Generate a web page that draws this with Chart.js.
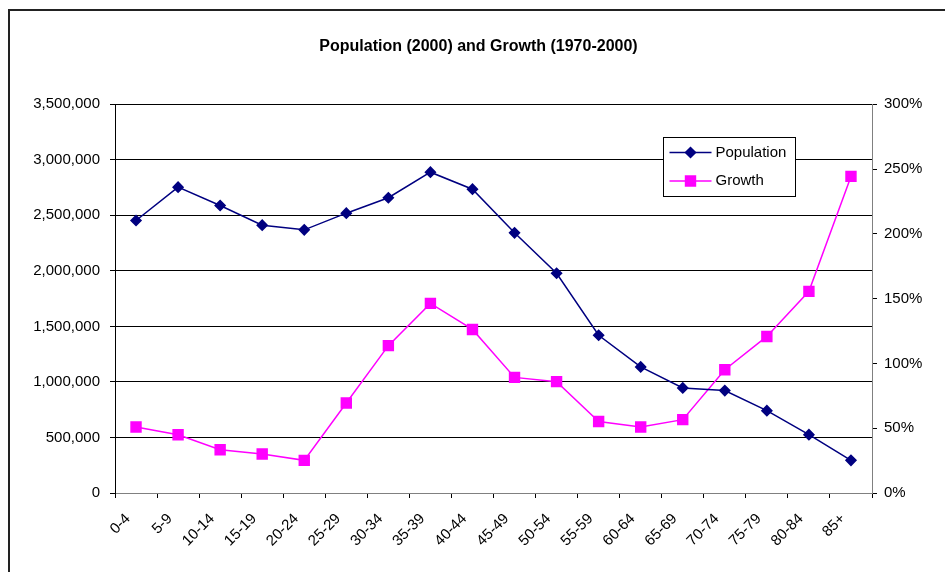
<!DOCTYPE html>
<html>
<head>
<meta charset="utf-8">
<script src="https://cdn.jsdelivr.net/npm/chart.js@4"></script>
<style>
  body { margin: 0; background: #fff; overflow: hidden; }
  #wrap { position: relative; width: 945px; height: 572px; }
  #frame { position: absolute; left: 8px; top: 9px; width: 1000px; height: 1000px; border: 2px solid #222; }
  canvas { position: absolute; left: 0; top: 0; }
</style>
</head>
<body>
<div id="wrap">
  <div id="frame"></div>
  <canvas id="chart" width="945" height="572"></canvas>
</div>
<script>
const ageGroups = ["0-4", "5-9", "10-14", "15-19", "20-24", "25-29", "30-34", "35-39", "40-44",
  "45-49", "50-54", "55-59", "60-64", "65-69", "70-74", "75-79", "80-84", "85+"];
const population = [2453000, 2753000, 2588000, 2411000, 2369000, 2519000, 2658000, 2888000, 2735000,
  2342000, 1978000, 1420000, 1135000, 946000, 922000, 741000, 525000, 294000];
// growth 1970-2000, in percent
const growth = [50.9, 45.0, 33.4, 30.1, 25.2, 69.4, 113.7, 146.3, 126.2,
  89.2, 85.9, 55.2, 50.9, 56.6, 95.1, 120.8, 155.6, 244.3];
const titleText = "Population (2000) and Growth (1970-2000)";

const font = "Arial, 'Liberation Sans', sans-serif";

// legend box drawn inside the plot area, like the original
const boxLegend = {
  id: "boxLegend",
  afterDraw(chart) {
    const ctx = chart.ctx;
    const x = 663.5, y = 137.5, w = 132, h = 59;
    ctx.save();
    ctx.fillStyle = "#fff";
    ctx.fillRect(x, y, w, h);
    ctx.strokeStyle = "#000";
    ctx.lineWidth = 1;
    ctx.strokeRect(x, y, w, h);
    chart.data.datasets.forEach((ds, i) => {
      const cy = y + 15 + i * 28.5;
      ctx.strokeStyle = ds.borderColor;
      ctx.lineWidth = ds.borderWidth;
      ctx.beginPath();
      ctx.moveTo(x + 6, cy);
      ctx.lineTo(x + 48, cy);
      ctx.stroke();
      Chart.helpers.drawPoint(ctx, {
        pointStyle: ds.pointStyle, radius: ds.pointRadius, borderWidth: 1
      }, x + 27, cy);
      ctx.fillStyle = ds.pointBackgroundColor;
      ctx.strokeStyle = ds.pointBorderColor;
      ctx.fill();
      ctx.fillStyle = "#000";
      ctx.font = "15px " + font;
      ctx.textBaseline = "middle";
      ctx.textAlign = "left";
      ctx.fillText(ds.label, x + 52, cy);
    });
    ctx.restore();
  }
};

const ctx = document.getElementById("chart").getContext("2d");
new Chart(ctx, {
  type: "line",
  data: {
    labels: ageGroups,
    datasets: [{
      label: "Population",
      data: population,
      yAxisID: "y",
      borderColor: "#000080",
      backgroundColor: "#000080",
      pointBackgroundColor: "#000080",
      pointBorderColor: "#000080",
      borderWidth: 1.5,
      pointStyle: "rectRot",
      pointRadius: 5,
      tension: 0
    }, {
      label: "Growth",
      data: growth,
      yAxisID: "y1",
      borderColor: "#FF00FF",
      backgroundColor: "#FF00FF",
      pointBackgroundColor: "#FF00FF",
      pointBorderColor: "#FF00FF",
      borderWidth: 1.5,
      pointStyle: "rect",
      pointRadius: 7,
      tension: 0
    }]
  },
  options: {
    responsive: false,
    animation: false,
    layout: { padding: { left: 12, right: 0, top: 0, bottom: 0 } },
    plugins: {
      legend: { display: false },
      tooltip: { enabled: false },
      title: {
        display: true,
        text: titleText,
        color: "#000",
        font: { family: font, size: 16, weight: "bold" },
        padding: { top: 37, bottom: 48 }
      }
    },
    scales: {
      x: {
        offset: true,
        grid: { drawOnChartArea: false, color: "#000", tickLength: 5, offset: true },
        border: { color: "#808080", width: 1 },
        ticks: {
          color: "#000",
          font: { family: font, size: 15 },
          minRotation: 45,
          maxRotation: 45,
          padding: 12,
          labelOffset: -8,
          autoSkip: false
        },
        afterFit(scale) { scale.height = 79; }
      },
      y: {
        position: "left",
        min: 0,
        max: 3500000,
        grid: { color: "#000", tickLength: 5 },
        border: { color: "#000" },
        ticks: {
          stepSize: 500000,
          color: "#000",
          font: { family: font, size: 15 },
          padding: 10,
          callback: v => v.toLocaleString("en-US")
        },
        afterFit(scale) { scale.width = 103; }
      },
      y1: {
        position: "right",
        min: 0,
        max: 300,
        grid: { drawOnChartArea: false, color: "#000", tickLength: 5 },
        border: { color: "#808080" },
        ticks: {
          stepSize: 50,
          color: "#000",
          font: { family: font, size: 15 },
          padding: 7,
          callback: v => v + "%"
        },
        afterFit(scale) { scale.width = 73; }
      }
    }
  },
  plugins: [boxLegend]
});
</script>
</body>
</html>
